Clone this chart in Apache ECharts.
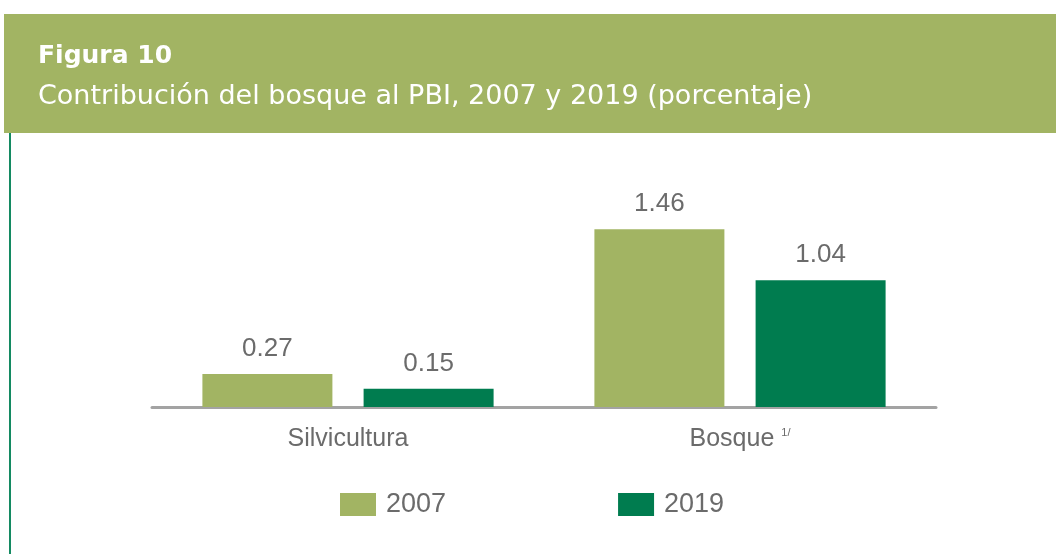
<!DOCTYPE html>
<html>
<head>
<meta charset="utf-8">
<script src="https://cdn.jsdelivr.net/npm/echarts@6/dist/echarts.min.js"></script>
<style>
  html, body { margin: 0; padding: 0; background: #fff; }
  #chart { width: 1056px; height: 554px; }
</style>
</head>
<body>
<div id="chart"></div>
<script>
var categories = ['Silvicultura', 'Bosque'];
var years = ['2007', '2019'];
var values2007 = [0.27, 1.46];
var values2019 = [0.15, 1.04];

var light = '#a2b463';
var dark = '#007c4f';
var grey = '#6b6b6b';
var font = "'Liberation Sans', Arial, sans-serif";
var headFont = "'DejaVu Sans', 'Liberation Sans', sans-serif";

var myChart = echarts.init(document.getElementById('chart'));

var option = {
    backgroundColor: '#ffffff',
    textStyle: { fontFamily: font },
    animation: false,
    graphic: [
        {
            type: 'rect',
            shape: { x: 4, y: 14, width: 1052, height: 119 },
            style: { fill: light },
            z: -1
        },
        {
            type: 'rect',
            shape: { x: 9, y: 133, width: 2, height: 421 },
            style: { fill: '#148a62' }
        }
    ],
    title: {
        text: 'Figura 10',
        subtext: 'Contribución del bosque al PBI, 2007 y 2019 (porcentaje)',
        left: 33,
        top: 39,
        itemGap: 14,
        textStyle: { color: '#fff', fontSize: 25, fontWeight: 'bold', fontFamily: headFont },
        subtextStyle: { color: '#fff', fontSize: 27, fontFamily: headFont }
    },
    legend: {
        data: years,
        bottom: 31,
        left: 335,
        itemWidth: 36,
        itemHeight: 23,
        itemGap: 172,
        icon: 'rect',
        textStyle: { color: grey, fontSize: 27, fontFamily: font, padding: [0, 0, 0, 5] }
    },
    grid: {
        left: 152,
        width: 784,
        top: 139,
        bottom: 147,
        containLabel: false
    },
    xAxis: {
        type: 'category',
        data: categories,
        axisLine: { lineStyle: { color: '#a3a3a3', width: 3 } },
        axisTick: { show: false },
        axisLabel: {
            color: grey,
            fontSize: 25,
            margin: 20,
            formatter: function (v) {
                return v === 'Bosque' ? v + ' {sup|1/}' : v;
            },
            rich: {
                sup: { fontSize: 11, color: grey, verticalAlign: 'top', padding: [0, 0, 10, 0] }
            }
        }
    },
    yAxis: {
        type: 'value',
        min: 0,
        max: 2.2,
        show: false,
        splitLine: { show: false }
    },
    series: [
        {
            name: '2007',
            type: 'bar',
            data: values2007,
            barWidth: 130,
            barGap: '24%',
            itemStyle: { color: light },
            label: {
                show: true,
                position: 'top',
                distance: 12,
                color: grey,
                fontSize: 26,
                fontFamily: font
            }
        },
        {
            name: '2019',
            type: 'bar',
            data: values2019,
            barWidth: 130,
            itemStyle: { color: dark },
            label: {
                show: true,
                position: 'top',
                distance: 12,
                color: grey,
                fontSize: 26,
                fontFamily: font
            }
        }
    ]
};

myChart.setOption(option);
</script>
</body>
</html>
